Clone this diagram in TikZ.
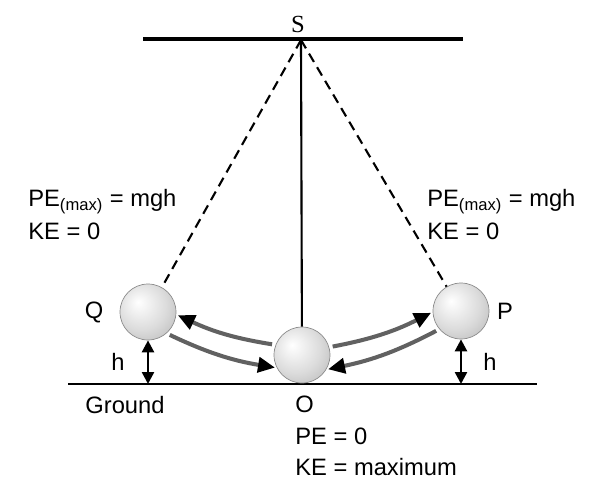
\documentclass[tikz,border=0pt]{standalone}
\usepackage{fontspec}
\setmainfont{Liberation Sans}
\newfontfamily\pivotfont{Liberation Serif}
\usetikzlibrary{arrows.meta,positioning}
\definecolor{swinggrey}{rgb}{0.38,0.38,0.38}
\pgfdeclareradialshading{bobshade}{\pgfpoint{-9bp}{9bp}}{color(0bp)=(white); color(22bp)=(black!14); color(44bp)=(black!32); color(60bp)=(black!50)}
\tikzset{
  bob/.style={
    circle,
    draw=black!45,
    shading=bobshade,
    minimum size=1.12cm,
    inner sep=0pt
  },
  txt/.style={
    align=left,
    inner sep=0pt,
    font=\fontsize{13.5}{18.6}\selectfont
  },
  swing/.style={
    -{Triangle[length=3.4mm,width=3mm,black]},
    line width=2.3pt,
    swinggrey,
    shorten <=2pt,
    shorten >=1pt
  },
  height/.style={
    {Triangle[length=2.4mm,width=2.4mm]}-{Triangle[length=2.4mm,width=2.4mm]},
    line width=1.4pt
  },
  thread/.style={
    dash pattern=on 5.5pt off 3.5pt,
    line width=1.2pt
  }
}

\begin{document}
\begin{tikzpicture}[x=0.02cm,y=-0.02cm]
\useasboundingbox (0,0) rectangle (593,481);
\coordinate (ceilL) at (143,39);
\coordinate (ceilR) at (463,39);
\coordinate (pivot) at (301,40);
\coordinate (groundL) at (68,384);
\coordinate (groundR) at (537,384);
\draw[line width=2.2pt] (ceilL) -- (ceilR);
\draw[line width=1.5pt] (groundL) -- (groundR);
\node[txt,font=\pivotfont\fontsize{14}{16}\selectfont] (S) at (298,24) {S};
\node[bob] (O) at (302,355) {};
\node[bob] (Q) at (148,312) {};
\node[bob] (P) at (461,311) {};
\draw[line width=1.2pt] (pivot) -- (O);
\draw[thread] (pivot) -- (Q);
\draw[thread] (pivot) -- (P);
\draw[swing] (O.159) to[bend left=8] (Q.-5);
\draw[swing] (Q.-49) to[bend right=8] (O.207);
\draw[swing] (O.16) to[bend right=8] (P.182);
\draw[swing] (P.220) to[bend left=8] (O.-31);
\draw[height] (Q.south) -- (Q.south |- groundL);
\draw[height] (P.south) -- (P.south |- groundL);
\node[txt,left=0.32cm of Q] (Qname) {Q};
\node[txt,right=0.15cm of P] (Pname) {P};
\node[txt] (hQ) at (118,362) {h};
\node[txt] (hP) at (490,362) {h};
\node[txt] (ground) at (125,405) {Ground};
\node[txt,anchor=north west,font=\fontsize{13.5}{17.8}\selectfont] (Otext) at (295,396) {O\\PE = 0\\KE = maximum};
\node[txt,anchor=north west] (Qtext) at (28,189) {PE\textsubscript{(max)} = mgh\\KE = 0};
\node[txt,anchor=north west] (Ptext) at (427,189) {PE\textsubscript{(max)} = mgh\\KE = 0};
\end{tikzpicture}
\end{document}
